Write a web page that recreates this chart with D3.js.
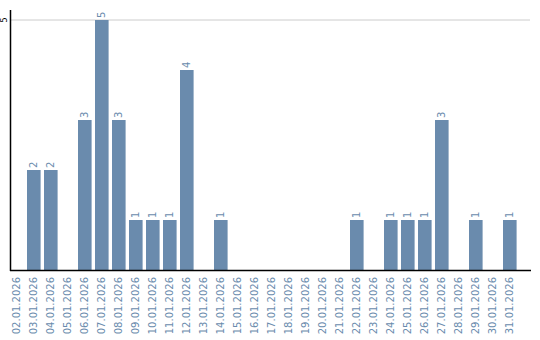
<!DOCTYPE html>
<html>
<head>
<meta charset="utf-8">
<script src="https://cdn.jsdelivr.net/npm/d3@7"></script>
<style>
  body { margin: 0; background: #fff; }
  svg { display: block; font-family: "DejaVu Sans", sans-serif; }
</style>
</head>
<body>
<svg></svg>
<script>
const days = ["02.01.2026","03.01.2026","04.01.2026","05.01.2026","06.01.2026","07.01.2026",
    "08.01.2026","09.01.2026","10.01.2026","11.01.2026","12.01.2026","13.01.2026","14.01.2026",
    "15.01.2026","16.01.2026","17.01.2026","18.01.2026","19.01.2026","20.01.2026","21.01.2026",
    "22.01.2026","23.01.2026","24.01.2026","25.01.2026","26.01.2026","27.01.2026","28.01.2026",
    "29.01.2026","30.01.2026","31.01.2026"];
const counts = [0,2,2,0,3,5,3,1,1,1,4,0,1,0,0,0,0,0,0,0,1,0,1,1,1,3,0,1,0,1];
const yTicks = [5];

const barColor = "#6a8bad";

const svg = d3.select("svg")
    .attr("width", 540)
    .attr("height", 340);

const x = d3.scaleBand()
    .domain(days)
    .range([10, 520])
    .padding(0);

const y = d3.scaleLinear()
    .domain([0, 5])
    .range([270, 20]);

const bw = x.step() * 0.8;

// grid line
svg.append("g")
    .selectAll("line")
    .data(yTicks)
    .enter().append("line")
    .attr("x1", 11)
    .attr("x2", 530)
    .attr("y1", d => y(d))
    .attr("y2", d => y(d))
    .attr("stroke", "#cccccc")
    .attr("stroke-width", 1);

// y tick label
svg.append("g")
    .selectAll("text")
    .data(yTicks)
    .enter().append("text")
    .attr("transform", d => `translate(7,${y(d)}) rotate(-90)`)
    .attr("text-anchor", "middle")
    .attr("font-size", 8)
    .attr("fill", "#000")
    .text(d => d);

// bars
const data = days.map((d, i) => ({ day: d, v: counts[i] }));

svg.append("g")
    .selectAll("rect")
    .data(data.filter(d => d.v > 0))
    .enter().append("rect")
    .attr("x", d => x(d.day))
    .attr("y", d => y(d.v))
    .attr("width", bw)
    .attr("height", d => y(0) - y(d.v))
    .attr("fill", barColor);

// value labels
svg.append("g")
    .selectAll("text")
    .data(data.filter(d => d.v > 0))
    .enter().append("text")
    .attr("transform", d => `translate(${x(d.day) + bw / 2},${y(d.v) - 2}) rotate(-90)`)
    .attr("dy", "0.35em")
    .attr("font-size", 10)
    .attr("fill", barColor)
    .text(d => d.v);

// x tick labels
svg.append("g")
    .selectAll("text")
    .data(days)
    .enter().append("text")
    .attr("transform", d => `translate(${x(d) + bw / 2},277) rotate(-90)`)
    .attr("text-anchor", "end")
    .attr("dy", "0.35em")
    .attr("font-size", 10)
    .attr("fill", barColor)
    .text(d => d);

// axes lines
svg.append("line")
    .attr("x1", 10.5).attr("x2", 10.5)
    .attr("y1", 10).attr("y2", 271)
    .attr("stroke", "#000").attr("stroke-width", 1.5);

svg.append("line")
    .attr("x1", 10).attr("x2", 531)
    .attr("y1", 270.5).attr("y2", 270.5)
    .attr("stroke", "#000").attr("stroke-width", 1.5);
</script>
</body>
</html>
